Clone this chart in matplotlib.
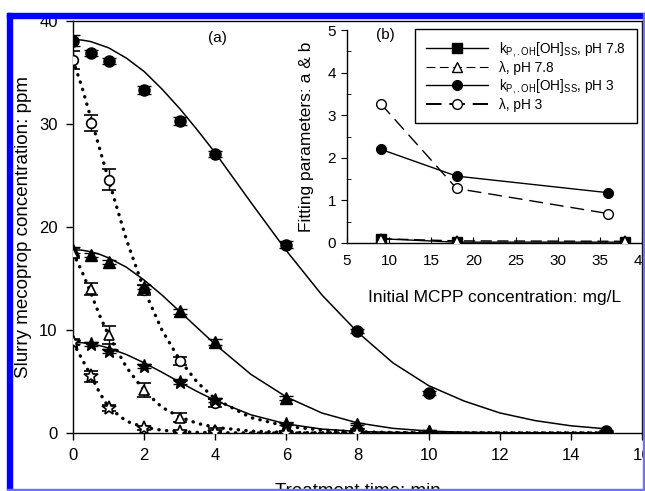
import numpy as np
import matplotlib
matplotlib.use("Agg")
import matplotlib.pyplot as plt
from matplotlib.patches import Rectangle
from matplotlib.lines import Line2D

plt.rcParams['font.family'] = ['Liberation Sans', 'DejaVu Sans']
plt.rcParams['mathtext.fontset'] = 'custom'
plt.rcParams['mathtext.rm'] = 'Liberation Sans'
plt.rcParams['mathtext.it'] = 'Liberation Sans'

# --- panel (a): measured points ---
t_obs = [0, 0.5, 1, 2, 3, 4, 6, 8, 10, 15]
t_obs_fast = [0, 0.5, 1, 2, 3, 4, 6, 8]

circ_filled = [38.1, 36.9, 36.1, 33.3, 30.3, 27.1, 18.3, 9.9, 3.9, 0.2]
circ_filled_err = [0.5, 0.3, 0.3, 0.4, 0.4, 0.3, 0.3, 0.2, 0.2, 0.1]
circ_open = [36.2, 30.1, 24.6, 13.9, 7.0, 2.9, 0.1, 0.05]
circ_open_err = [0.9, 0.8, 1.0, 0.5, 0.4, 0.4, 0.1, 0.1]

tri_filled = [17.8, 17.3, 16.6, 14.2, 11.8, 8.8, 3.4, 0.9, 0.2, 0.0]
tri_filled_err = [0.3, 0.2, 0.2, 0.2, 0.2, 0.3, 0.2, 0.1, 0.1, 0.0]
tri_open = [17.5, 14.0, 9.5, 4.2, 1.5, 0.3, 0.1, 0.05]
tri_open_err = [0.5, 0.6, 0.9, 0.7, 0.4, 0.2, 0.1, 0.1]

star_filled = [8.8, 8.6, 8.0, 6.5, 5.0, 3.2, 0.9, 0.3, 0.1, 0.0]
star_filled_err = [0.2, 0.2, 0.2, 0.2, 0.2, 0.2, 0.1, 0.1, 0.0, 0.0]
star_open = [8.8, 5.5, 2.4, 0.5, 0.1, 0.05, 0.0, 0.0]
star_open_err = [0.3, 0.5, 0.3, 0.2, 0.1, 0.1, 0.0, 0.0]

# --- panel (a): fitted curves ---
t_fit = [0, 0.25, 0.5, 0.75, 1, 1.5, 2, 2.5, 3, 3.5, 4, 5, 6, 7, 8, 9, 10, 11, 12, 13, 14, 15]
fit_circ_filled = [38.2, 38.15, 38.0, 37.7, 37.4, 36.4, 35.1, 33.4, 31.5, 29.4, 27.2, 22.4,
                   17.7, 13.4, 9.8, 6.8, 4.6, 3.1, 1.95, 1.2, 0.7, 0.4]
fit_circ_open = [36.2, 33.6, 30.6, 27.6, 24.6, 18.8, 13.9, 10.0, 7.1, 4.9, 3.3, 1.5,
                 0.65, 0.28, 0.12, 0.05, 0.02, 0.01, 0.0, 0.0, 0.0, 0.0]
fit_tri_filled = [17.8, 17.75, 17.6, 17.35, 17.0, 16.1, 14.85, 13.4, 11.8, 10.2, 8.6, 5.7,
                  3.5, 1.94, 0.98, 0.45, 0.19, 0.07, 0.03, 0.01, 0.0, 0.0]
fit_tri_open = [17.5, 15.7, 13.6, 11.4, 9.5, 6.4, 4.1, 2.5, 1.55, 0.93, 0.55, 0.18,
                0.06, 0.02, 0.01, 0.0, 0.0, 0.0, 0.0, 0.0, 0.0, 0.0]
fit_star_filled = [8.8, 8.77, 8.66, 8.49, 8.25, 7.62, 6.81, 5.9, 4.94, 4.01, 3.16, 1.77,
                   0.88, 0.38, 0.15, 0.05, 0.01, 0.0, 0.0, 0.0, 0.0, 0.0]
fit_star_open = [8.8, 7.2, 5.6, 3.9, 2.5, 1.15, 0.55, 0.27, 0.13, 0.06, 0.03, 0.01,
                 0.0, 0.0, 0.0, 0.0, 0.0, 0.0, 0.0, 0.0, 0.0, 0.0]

# --- panel (b): fitting parameters ---
conc_ph78 = [9, 18, 38]
kp_ph78 = [0.1, 0.02, 0.02]
lam_ph78 = [0.1, 0.05, 0.04]
conc_ph3 = [9, 18, 36]
kp_ph3 = [2.2, 1.57, 1.18]
lam_ph3 = [3.27, 1.28, 0.69]

W, H = 645, 491
fig = plt.figure(figsize=(W / 100, H / 100), dpi=100)

# marco azul del recorte original
fig.patches.append(Rectangle((7 / W, 0), 5 / W, 1 - 13 / H, transform=fig.transFigure,
                             color='#0000ff', zorder=0))
fig.patches.append(Rectangle((7 / W, 1 - 18 / H), 1 - 7 / W, 5 / H, transform=fig.transFigure,
                             color='#0000ff', zorder=0))
fig.patches.append(Rectangle((643 / W, 0), 2 / W, 1 - 13 / H, transform=fig.transFigure,
                             color='#7070ff', zorder=0))
fig.patches.append(Rectangle((7 / W, 1 / H), 1 - 7 / W, 1.5 / H, transform=fig.transFigure,
                             color='#7070ff', zorder=0))

ax = fig.add_axes([73 / W, 1 - 433 / H, (642 - 73) / W, (433 - 21) / H])
ax.set_xlim(0, 16)
ax.set_ylim(0, 40)
ax.set_xticks(range(0, 17, 2))
ax.set_yticks(range(0, 41, 10))
ax.tick_params(direction='out', length=5, width=1, labelsize=12, pad=6)
for s in ax.spines.values():
    s.set_linewidth(1)

dotted = (0, (0.1, 2.2))
ax.plot(t_fit, fit_circ_filled, color='k', lw=1.1, zorder=2)
ax.plot(t_fit, fit_tri_filled, color='k', lw=1.1, zorder=2)
ax.plot(t_fit, fit_star_filled, color='k', lw=1.1, zorder=2)
for y in (fit_circ_open, fit_tri_open, fit_star_open):
    ax.plot(t_fit, y, color='k', lw=2.4, linestyle=dotted, dash_capstyle='round', zorder=2)

ms = 7
ekw = dict(ecolor='k', elinewidth=1, capsize=5, capthick=1, linestyle='none', zorder=3)
ax.errorbar(t_obs, circ_filled, yerr=circ_filled_err, fmt='o', mfc='k', mec='k', ms=ms + 1, **ekw)
ax.errorbar(t_obs_fast, circ_open, yerr=circ_open_err, fmt='o', mfc='white', mec='k', mew=1.2, ms=ms, **ekw)
ax.errorbar(t_obs, tri_filled, yerr=tri_filled_err, fmt='^', mfc='k', mec='k', ms=ms + 1, **ekw)
ax.errorbar(t_obs_fast, tri_open, yerr=tri_open_err, fmt='^', mfc='white', mec='k', mew=1.2, ms=ms, **ekw)
ax.errorbar(t_obs, star_filled, yerr=star_filled_err, fmt='*', mfc='k', mec='k', ms=ms + 3, **ekw)
ax.errorbar(t_obs_fast, star_open, yerr=star_open_err, fmt='*', mfc='white', mec='k', mew=1.2, ms=ms + 3, **ekw)

ax.set_xlabel('Treatment time: min', fontsize=13.5, labelpad=14)
ax.set_ylabel('Slurry mecoprop concentration: ppm', fontsize=13.5, labelpad=5)
fig.text(217 / W, 1 - 38 / H, '(a)', fontsize=11, ha='center', va='center')

# --- inset (b) ---
ins = fig.add_axes([347 / W, 1 - 243 / H, (642 - 347) / W, (243 - 30) / H])
ins.set_facecolor('white')
ins.set_xlim(5, 40)
ins.set_ylim(0, 5)
ins.set_xticks(range(5, 41, 5))
ins.set_yticks(range(0, 6))
ins.set_yticks(np.arange(0.5, 5, 1.0), minor=True)
ins.spines['top'].set_visible(False)
for s in ins.spines.values():
    s.set_linewidth(1)
ins.tick_params(axis='x', direction='in', length=4, labelsize=11, pad=8)
ins.tick_params(axis='y', which='major', direction='out', length=4, labelsize=11, pad=4)
ins.tick_params(axis='y', which='minor', direction='in', length=3)

ins.plot(conc_ph78, kp_ph78, color='k', lw=1, marker='s', ms=7, mfc='k', mec='k', zorder=3)
ins.plot(conc_ph78, lam_ph78, color='k', lw=1, linestyle=(0, (8, 4)), marker='^', ms=7,
         mfc='white', mec='k', mew=1.2, zorder=4)
ins.plot(conc_ph3, kp_ph3, color='k', lw=1, marker='o', ms=7, mfc='k', mec='k', zorder=3)
ins.plot(conc_ph3, lam_ph3, color='k', lw=1, linestyle=(0, (10, 5)), marker='o', ms=7,
         mfc='white', mec='k', mew=1, zorder=3)

ins.set_xlabel('Initial MCPP concentration: mg/L', fontsize=12.5, labelpad=16)
ins.set_ylabel('Fitting parameters: a & b', fontsize=12.5, labelpad=10)
ins.text(0.13, 0.975, '(b)', transform=ins.transAxes, fontsize=11, ha='center', va='center')

handles = [
    Line2D([], [], color='k', lw=1, marker='s', ms=7, mfc='k', mec='k'),
    Line2D([], [], color='k', lw=0.8, linestyle=(0, (8, 4)), marker='^', ms=7, mfc='white', mec='k'),
    Line2D([], [], color='k', lw=1, marker='o', ms=7, mfc='k', mec='k'),
    Line2D([], [], color='k', lw=1.4, linestyle=(0, (8, 4)), marker='o', ms=7, mfc='white', mec='k'),
]
labels = [
    r'k$_{\mathrm{P,.OH}}$[OH]$_{\mathrm{SS}}$, pH 7.8',
    'λ, pH 7.8',
    r'k$_{\mathrm{P,.OH}}$[OH]$_{\mathrm{SS}}$, pH 3',
    'λ, pH 3',
]
leg = ins.legend(handles, labels, loc='upper right', bbox_to_anchor=(0.983, 1.005),
                 borderaxespad=0, fontsize=9.8, handlelength=4.6, handletextpad=0.8,
                 labelspacing=0.15, borderpad=0.8, fancybox=False, framealpha=1,
                 edgecolor='k')
leg.get_frame().set_linewidth(1)

fig.savefig('out.png', dpi=100)
